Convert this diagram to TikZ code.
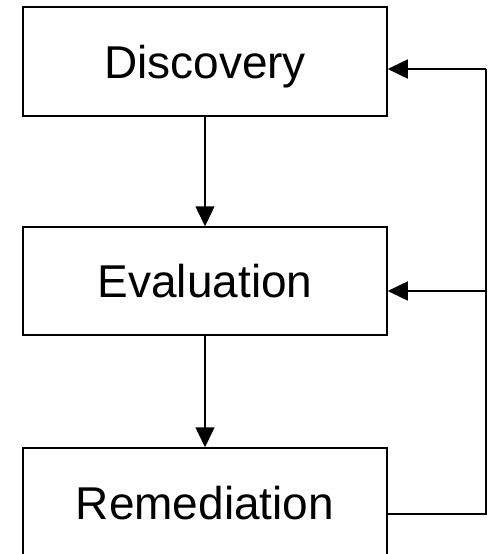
\documentclass[tikz,border=0pt]{standalone}
\usepackage{fontspec}
\setmainfont{Liberation Sans}
\usetikzlibrary{arrows.meta}
\begin{document}
\begin{tikzpicture}[x=1pt,y=-1pt,
  stage/.style={draw,line width=1.5pt,minimum width=364pt,inner sep=0pt,
    font=\fontsize{46}{50}\selectfont,text height=33pt,text depth=0pt},
  flow/.style={line width=1.5pt,-{Triangle[length=20pt,width=19pt]}},
  back/.style={line width=1.5pt}]
\useasboundingbox (0,0) rectangle (489,554);
\clip (0,0) rectangle (489,554);
\fill[white] (0,0) rectangle (489,554);
% the three stages
\node[stage,minimum height=109pt] (disc) at (205,61.5) {Discovery};
\node[stage,minimum height=108pt] (eval) at (205,281) {Evaluation};
\node[stage,minimum height=109pt] (rem) at (205,502.5) {Remediation};
% forward flow
\draw[flow] (disc.south) -- (eval.north);
\draw[flow] (eval.south) -- (rem.north);
% feedback loop on the right
\coordinate (fb) at (486,514);
\coordinate (c1) at (486,69);
\coordinate (c2) at (486,291);
\draw[back] (rem.east |- fb) -- (fb) -- (c1);
\draw[flow] (c1) -- (disc.east |- c1);
\draw[flow] (c2) -- (eval.east |- c2);
\end{tikzpicture}
\end{document}
